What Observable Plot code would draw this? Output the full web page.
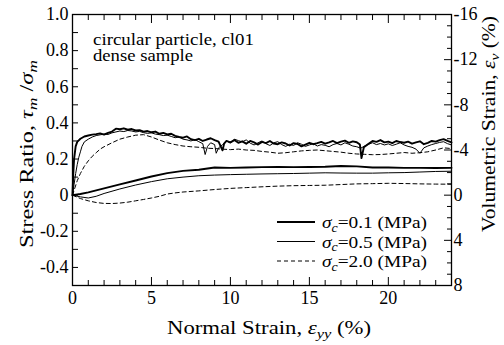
<!DOCTYPE html>
<html><head><meta charset="utf-8">
<script src="https://cdn.jsdelivr.net/npm/d3@7"></script>
<script src="https://cdn.jsdelivr.net/npm/@observablehq/plot@0.6"></script>
<style>body{margin:0;background:#fff}</style>
</head><body><div id="chart"></div>
<script>
// Stress ratio tau_m/sigma_m vs normal strain (%)
const sr01 = [[0,0],[0.05,0.12],[0.1,0.2],[0.2,0.27],[0.3,0.295],[0.5,0.312],[0.75,0.325],[1,0.330],[1.25,0.335],[1.5,0.338],[1.75,0.342],[2,0.335],[2.25,0.345],[2.5,0.352],[2.75,0.368],[3,0.365],[3.25,0.370],[3.5,0.362],[3.75,0.366],[4,0.358],[4.25,0.360],[4.5,0.352],[4.75,0.355],[5,0.348],[5.25,0.352],[5.5,0.340],[5.75,0.345],[6,0.336],[6.25,0.340],[6.5,0.328],[6.75,0.322],[7,0.318],[7.25,0.325],[7.5,0.310],[7.75,0.305],[8,0.312],[8.25,0.300],[8.5,0.308],[8.75,0.315],[9,0.305],[9.25,0.296],[9.5,0.248],[9.6,0.285],[9.75,0.300],[10,0.292],[10.25,0.305],[10.5,0.290],[10.75,0.298],[11,0.285],[11.25,0.300],[11.5,0.292],[11.75,0.280],[12,0.295],[12.25,0.288],[12.5,0.300],[12.75,0.285],[13,0.282],[13.25,0.292],[13.5,0.286],[13.75,0.275],[14,0.288],[14.25,0.283],[14.5,0.270],[14.75,0.280],[15,0.290],[15.25,0.282],[15.5,0.288],[15.75,0.295],[16,0.285],[16.25,0.292],[16.5,0.300],[16.75,0.288],[17,0.296],[17.25,0.302],[17.5,0.290],[17.75,0.298],[18,0.293],[18.2,0.280],[18.3,0.205],[18.45,0.265],[18.75,0.285],[19,0.300],[19.25,0.295],[19.5,0.305],[19.75,0.292],[20,0.296],[20.25,0.288],[20.5,0.300],[20.75,0.294],[21,0.290],[21.25,0.296],[21.5,0.285],[21.75,0.292],[22,0.298],[22.25,0.282],[22.5,0.290],[22.75,0.300],[23,0.296],[23.25,0.305],[23.5,0.310],[23.75,0.300],[24,0.292]];
const sr05 = [[0,0],[0.1,0.06],[0.2,0.12],[0.3,0.17],[0.4,0.21],[0.5,0.24],[0.6,0.27],[0.75,0.295],[1,0.31],[1.25,0.322],[1.5,0.330],[1.75,0.334],[2,0.338],[2.25,0.336],[2.5,0.345],[2.75,0.350],[3,0.355],[3.25,0.352],[3.5,0.358],[3.75,0.355],[4,0.350],[4.25,0.353],[4.5,0.346],[4.75,0.342],[5,0.345],[5.25,0.338],[5.5,0.335],[5.75,0.330],[6,0.332],[6.25,0.325],[6.5,0.318],[6.75,0.322],[7,0.310],[7.25,0.306],[7.5,0.300],[7.75,0.308],[8,0.296],[8.25,0.285],[8.4,0.225],[8.55,0.270],[8.75,0.290],[9,0.280],[9.1,0.232],[9.25,0.262],[9.5,0.280],[9.75,0.300],[10,0.288],[10.25,0.310],[10.5,0.302],[10.75,0.295],[11,0.306],[11.25,0.288],[11.5,0.278],[11.75,0.290],[12,0.300],[12.25,0.285],[12.5,0.275],[12.75,0.290],[13,0.296],[13.25,0.280],[13.5,0.270],[13.75,0.282],[14,0.275],[14.25,0.290],[14.5,0.282],[14.75,0.270],[15,0.278],[15.25,0.285],[15.5,0.272],[15.75,0.280],[16,0.276],[16.25,0.268],[16.5,0.280],[16.75,0.286],[17,0.278],[17.25,0.290],[17.5,0.282],[17.75,0.272],[18,0.268],[18.25,0.260],[18.5,0.272],[18.75,0.282],[19,0.290],[19.25,0.280],[19.5,0.286],[19.75,0.278],[20,0.284],[20.25,0.275],[20.5,0.282],[20.75,0.290],[21,0.278],[21.25,0.270],[21.5,0.265],[21.75,0.255],[22,0.232],[22.25,0.262],[22.5,0.272],[22.75,0.280],[23,0.286],[23.25,0.292],[23.5,0.296],[23.75,0.285],[24,0.278]];
const sr20 = [[0,0],[0.15,0.04],[0.3,0.08],[0.5,0.12],[0.75,0.16],[1,0.19],[1.25,0.215],[1.5,0.235],[1.75,0.255],[2,0.268],[2.5,0.29],[3,0.31],[3.5,0.322],[4,0.332],[4.5,0.335],[5,0.322],[5.5,0.305],[6,0.29],[6.5,0.28],[7,0.272],[7.5,0.268],[8,0.265],[8.5,0.26],[9,0.258],[9.5,0.255],[10,0.252],[10.5,0.255],[11,0.25],[11.5,0.248],[12,0.242],[12.5,0.238],[13,0.232],[13.5,0.235],[14,0.24],[14.5,0.245],[15,0.248],[15.5,0.25],[16,0.246],[16.5,0.242],[17,0.238],[17.5,0.232],[18,0.228],[18.5,0.226],[19,0.224],[19.5,0.225],[20,0.228],[20.5,0.232],[21,0.236],[21.5,0.232],[22,0.235],[22.5,0.24],[23,0.25],[23.5,0.262],[24,0.258]];
// Volumetric strain eps_v (%) vs normal strain (%)
const vol01 = [[0,0],[0.5,-0.1],[1,-0.25],[2,-0.6],[3,-0.95],[4,-1.3],[5,-1.65],[6,-1.95],[7,-2.15],[8,-2.25],[9,-2.45],[10,-2.42],[11,-2.45],[12,-2.48],[13,-2.5],[14,-2.48],[15,-2.5],[16,-2.52],[17,-2.58],[18,-2.55],[19,-2.45],[20,-2.45],[21,-2.42],[22,-2.42],[23,-2.4],[24,-2.42]];
const vol05 = [[0,0],[0.5,0.15],[1,0.25],[1.5,0.1],[2,-0.15],[3,-0.55],[4,-0.9],[5,-1.2],[6,-1.45],[7,-1.6],[8,-1.72],[9,-1.78],[10,-1.82],[11,-1.85],[12,-1.88],[13,-1.9],[14,-1.92],[15,-1.95],[16,-1.98],[17,-1.96],[18,-1.95],[19,-1.95],[20,-1.98],[21,-2.0],[22,-2.05],[23,-2.1],[24,-2.12]];
const vol20 = [[0,0],[0.5,0.3],[1,0.5],[1.5,0.65],[2,0.73],[2.5,0.74],[3,0.7],[3.5,0.62],[4,0.5],[4.5,0.38],[5,0.25],[5.5,0.1],[6,-0.1],[6.5,-0.2],[7,-0.28],[8,-0.38],[9,-0.5],[10,-0.6],[11,-0.67],[12,-0.74],[13,-0.8],[14,-0.84],[15,-0.86],[16,-0.88],[17,-0.94],[18,-1.0],[19,-1.02],[20,-1.05],[21,-1.03],[22,-1.0],[23,-0.98],[24,-0.97]];

const xTicks = [0,5,10,15,20];
const xMinor = [1,2,3,4,6,7,8,9,11,12,13,14,16,17,18,19,21,22,23,24];
const srTicks = [-0.4,-0.2,0,0.2,0.4,0.6,0.8,1.0];
const srMinor = [-0.5,-0.3,-0.1,0.1,0.3,0.5,0.7,0.9];
const volTicks = [-16,-12,-8,-4,0,4,8];
const volMinor = [-15,-14,-13,-11,-10,-9,-7,-6,-5,-3,-2,-1,1,2,3,5,6,7];
const legendLabels = ["0.1","0.5","2.0"];

const FONT = "'Liberation Serif','Times New Roman',serif";
const volToY = v => -v / 16; // right axis: -16..8 maps onto 1.0..-0.5
const fmtSR = d => d === 0 ? "0" : d.toFixed(1);
const fmtVol = d => String(Math.round(-d * 16) || 0);

const thick = {stroke: "black", strokeWidth: 1.9};
const thin = {stroke: "black", strokeWidth: 1};
const dash = {stroke: "black", strokeWidth: 1, strokeDasharray: "4,3"};

const plot = Plot.plot({
  width: 504, height: 345,
  marginLeft: 72, marginRight: 53, marginTop: 14, marginBottom: 60,
  style: {fontFamily: FONT, fontSize: "18px", background: "white", color: "black"},
  x: {domain: [0, 24], axis: null},
  y: {domain: [-0.5, 1.0], axis: null},
  marks: [
    Plot.line(vol20, {x: d => d[0], y: d => volToY(d[1]), ...dash}),
    Plot.line(vol05, {x: d => d[0], y: d => volToY(d[1]), ...thin}),
    Plot.line(vol01, {x: d => d[0], y: d => volToY(d[1]), ...thick}),
    Plot.line(sr20, {x: d => d[0], y: d => d[1], ...dash}),
    Plot.line(sr05, {x: d => d[0], y: d => d[1], ...thin}),
    Plot.line(sr01, {x: d => d[0], y: d => d[1], ...thick}),
    Plot.frame({stroke: "black", strokeWidth: 1.3}),
    Plot.axisY(srTicks.concat(srMinor), {anchor: "left", tickSize: -6, tickFormat: () => "", label: null}),
    Plot.axisY(srTicks, {anchor: "left", tickSize: 0, tickPadding: 4, tickFormat: fmtSR, label: null, fontSize: 18}),
    Plot.axisY(volTicks.map(volToY), {anchor: "right", tickSize: -8, tickFormat: () => "", label: null}),
    Plot.axisY(volMinor.map(volToY), {anchor: "right", tickSize: -5, tickFormat: () => "", label: null}),
    Plot.axisY(volTicks.map(volToY), {anchor: "right", tickSize: 0, tickPadding: 2, tickFormat: fmtVol, label: null, fontSize: 18}),
    Plot.axisX(xTicks, {anchor: "bottom", tickSize: -8, tickFormat: () => "", label: null}),
    Plot.axisX(xMinor, {anchor: "bottom", tickSize: -5, tickFormat: () => "", label: null}),
    Plot.axisX(xTicks, {anchor: "bottom", tickSize: 0, tickPadding: 6, tickFormat: d => String(d), label: null, fontSize: 18}),
    Plot.axisX(xTicks, {anchor: "top", tickSize: -8, tickFormat: () => "", label: null}),
    Plot.axisX(xMinor, {anchor: "top", tickSize: -5, tickFormat: () => "", label: null})
  ]
});
document.getElementById("chart").appendChild(plot);

const svg = d3.select(plot);
function rich(parts, attrs, fs) {
  const t = svg.append("text").attr("font-family", FONT).attr("font-size", fs)
    .attr("fill", "black").attr("text-anchor", "start");
  for (const [k, v] of Object.entries(attrs)) t.attr(k, v);
  let sub = false;
  for (const p of parts) {
    const s = t.append("tspan").text(p.t);
    if (p.i) s.attr("font-style", "italic");
    if (p.s) {
      s.attr("font-size", fs * 0.72);
      if (!sub) { s.attr("dy", fs * 0.22); sub = true; }
    } else if (sub) { s.attr("dy", -fs * 0.22); sub = false; }
  }
  return t;
}
// axis titles
rich([{t: "Normal Strain, "}, {t: "ε", i: 1}, {t: "yy", i: 1, s: 1}, {t: " (%)"}],
  {x: 269, y: 334, "text-anchor": "middle", textLength: 204, lengthAdjust: "spacingAndGlyphs"}, 18);
rich([{t: "Stress Ratio, "}, {t: "τ", i: 1}, {t: "m", i: 1, s: 1}, {t: " /"}, {t: "σ", i: 1}, {t: "m", i: 1, s: 1}],
  {transform: "translate(33,154) rotate(-90)", "text-anchor": "middle", textLength: 188, lengthAdjust: "spacingAndGlyphs"}, 18);
rich([{t: "Volumetric Strain, "}, {t: "ε", i: 1}, {t: "v", i: 1, s: 1}, {t: " (%)"}],
  {transform: "translate(495,124) rotate(-90)", "text-anchor": "middle", textLength: 216, lengthAdjust: "spacingAndGlyphs"}, 18);
// annotation
rich([{t: "circular particle, cl01"}], {x: 93, y: 45, textLength: 161, lengthAdjust: "spacingAndGlyphs"}, 16);
rich([{t: "dense sample"}], {x: 93, y: 61, textLength: 100, lengthAdjust: "spacingAndGlyphs"}, 16);
// legend
const legStyles = [thick, thin, dash];
legendLabels.forEach((lab, i) => {
  const ly = 222 + i * 19.5;
  const st = legStyles[i];
  svg.append("line").attr("x1", 277).attr("x2", 315).attr("y1", ly).attr("y2", ly)
    .attr("stroke", "black").attr("stroke-width", st.strokeWidth).attr("stroke-dasharray", st.strokeDasharray || null);
  rich([{t: "σ", i: 1}, {t: "c", i: 1, s: 1}, {t: "=" + lab + " (MPa)"}],
    {x: 322, y: ly + 6, textLength: 105, lengthAdjust: "spacingAndGlyphs"}, 16);
});
</script>
</body></html>
